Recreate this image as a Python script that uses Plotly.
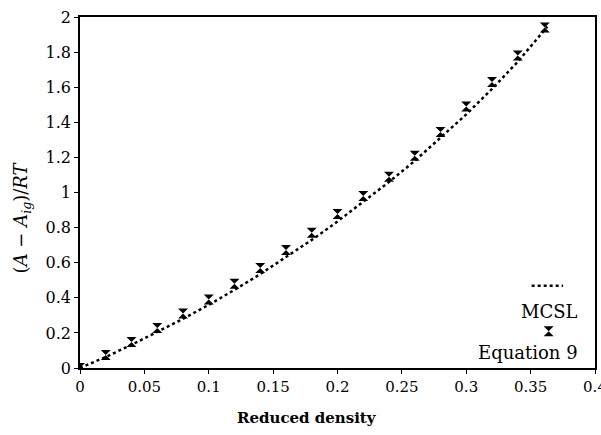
import plotly.graph_objects as go

# Equation 9 points
eq9_x = [0.0, 0.02, 0.04, 0.06, 0.08, 0.10, 0.12, 0.14, 0.16, 0.18, 0.20,
         0.22, 0.24, 0.26, 0.28, 0.30, 0.32, 0.34, 0.361]
eq9_y = [0.0, 0.074, 0.148, 0.228, 0.31, 0.39, 0.48, 0.57, 0.672, 0.77, 0.877,
         0.98, 1.09, 1.21, 1.345, 1.49, 1.63, 1.78, 1.94]

# MCSL curve
mcsl_x = [0.0, 0.02, 0.04, 0.06, 0.08, 0.10, 0.12, 0.14, 0.16, 0.18, 0.20,
          0.22, 0.24, 0.26, 0.28, 0.30, 0.32, 0.34, 0.363]
mcsl_y = [0.0, 0.063, 0.132, 0.205, 0.28, 0.36, 0.445, 0.535, 0.63, 0.73, 0.835,
          0.945, 1.06, 1.18, 1.31, 1.445, 1.59, 1.745, 1.945]

x_ticks = [0, 0.05, 0.1, 0.15, 0.2, 0.25, 0.3, 0.35, 0.4]
x_tick_labels = ["0", "0.05", "0.1", "0.15", "0.2", "0.25", "0.3", "0.35", "0.4"]
y_ticks = [0, 0.2, 0.4, 0.6, 0.8, 1.0, 1.2, 1.4, 1.6, 1.8, 2.0]
y_tick_labels = ["0", "0.2", "0.4", "0.6", "0.8", "1", "1.2", "1.4", "1.6", "1.8", "2"]

FONT = "DejaVu Serif"

fig = go.Figure()
fig.add_trace(go.Scatter(x=mcsl_x, y=mcsl_y, mode="lines",
                         line=dict(color="black", width=2.5, dash="dot"),
                         name="MCSL", showlegend=False))
fig.add_trace(go.Scatter(x=eq9_x, y=eq9_y, mode="markers",
                         marker=dict(symbol="hourglass", size=10, color="black"),
                         name="Equation 9", showlegend=False))

# legend samples on an overlay axis
fig.add_trace(go.Scatter(x=[0.877, 0.938], y=[0.234, 0.234], mode="lines",
                         line=dict(color="black", width=2.5, dash="dot"),
                         xaxis="x2", yaxis="y2", showlegend=False, hoverinfo="skip"))
fig.add_trace(go.Scatter(x=[0.91], y=[0.105], mode="markers",
                         marker=dict(symbol="hourglass", size=10, color="black"),
                         xaxis="x2", yaxis="y2", showlegend=False, hoverinfo="skip"))

fig.add_annotation(x=0.971, y=0.16, xref="x2", yref="y2", text="MCSL",
                   showarrow=False, xanchor="right", yanchor="middle",
                   font=dict(family=FONT, size=18, color="black"))
fig.add_annotation(x=0.971, y=0.043, xref="x2", yref="y2", text="Equation 9",
                   showarrow=False, xanchor="right", yanchor="middle",
                   font=dict(family=FONT, size=18, color="black"))

# x axis title
fig.add_annotation(x=0.441, y=-0.142, xref="paper", yref="paper",
                   text="<b>Reduced density</b>", showarrow=False,
                   xanchor="center", yanchor="middle",
                   font=dict(family=FONT, size=15, color="black"))

# y axis title
fig.add_annotation(x=-0.112, y=0.43, xref="paper", yref="paper",
                   text="(<i>A</i> − <i>A</i><sub><i>ig</i></sub>)/<i>RT</i>",
                   textangle=-90, showarrow=False,
                   xanchor="center", yanchor="middle",
                   font=dict(family=FONT, size=18, color="black"))

fig.update_layout(
    width=601, height=435,
    margin=dict(l=80, r=6, t=17, b=67, autoexpand=False),
    paper_bgcolor="white", plot_bgcolor="white",
    font=dict(family=FONT, size=16, color="black"),
    xaxis=dict(range=[0, 0.4], tickvals=x_ticks, ticktext=x_tick_labels,
               showgrid=False, zeroline=False, showline=True, linecolor="black",
               linewidth=1.5, mirror=True, ticks="outside", ticklen=4,
               tickcolor="black", ticklabeloverflow="allow", automargin=False,
               tickfont=dict(family=FONT, size=15)),
    yaxis=dict(range=[0, 2], tickvals=y_ticks, ticktext=y_tick_labels,
               showgrid=False, zeroline=False, showline=True, linecolor="black",
               linewidth=1.5, mirror=True, ticks="outside", ticklen=4,
               tickcolor="black", automargin=False,
               tickfont=dict(family=FONT, size=16)),
    xaxis2=dict(range=[0, 1], overlaying="x", visible=False),
    yaxis2=dict(range=[0, 1], overlaying="y", visible=False),
)

fig.write_html("out.html")
